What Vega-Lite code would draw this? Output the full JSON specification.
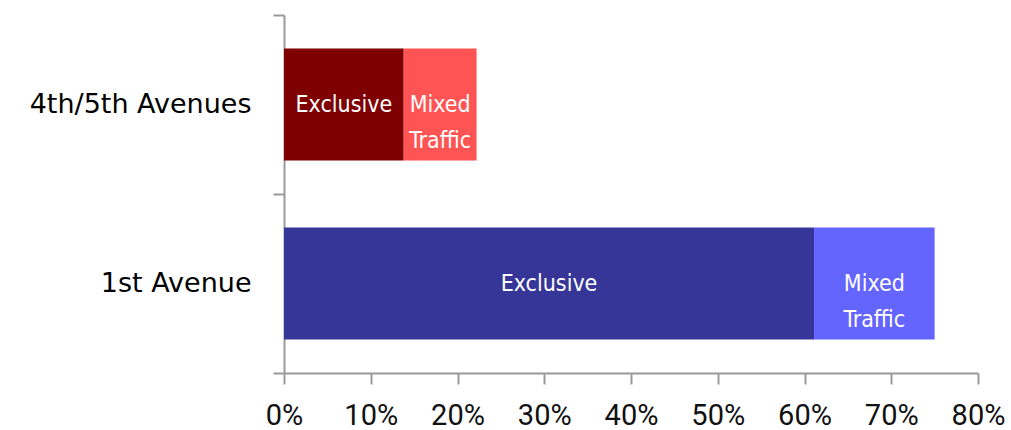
{
  "$schema": "https://vega.github.io/schema/vega-lite/v6.json",
  "width": 694,
  "height": 358,
  "autosize": {"type": "none"},
  "padding": {"left": 284, "top": 15, "right": 33, "bottom": 57},
  "background": "white",
  "config": {"view": {"stroke": null}},
  "data": {
    "values": [
      {"avenue": "4th/5th Avenues", "type": "Exclusive", "value": 13.8, "series": "4/5 Exclusive"},
      {"avenue": "4th/5th Avenues", "type": "Mixed Traffic", "value": 8.4, "series": "4/5 Mixed"},
      {"avenue": "1st Avenue", "type": "Exclusive", "value": 61.1, "series": "1st Exclusive"},
      {"avenue": "1st Avenue", "type": "Mixed Traffic", "value": 13.9, "series": "1st Mixed"}
    ]
  },
  "transform": [
    {"stack": "value", "groupby": ["avenue"], "sort": [{"field": "type", "order": "ascending"}], "as": ["start", "end"]},
    {"calculate": "(datum.start + datum.end) / 2", "as": "mid"}
  ],
  "encoding": {
    "y": {
      "field": "avenue",
      "type": "nominal",
      "sort": ["4th/5th Avenues", "1st Avenue"],
      "scale": {"paddingInner": 0, "paddingOuter": 0},
      "axis": {
        "title": null,
        "tickBand": "extent",
        "domainColor": "#9a9a9a",
        "domainWidth": 2,
        "tickColor": "#9a9a9a",
        "tickWidth": 2,
        "tickSize": 11,
        "labelFont": "DejaVu Sans",
        "labelFontSize": 27,
        "labelFontWeight": 500,
        "labelColor": "#000000",
        "labelPadding": 22,
        "labelLimit": 400
      }
    }
  },
  "layer": [
    {
      "mark": {"type": "bar", "height": {"band": 0.626}},
      "encoding": {
        "x": {
          "field": "start",
          "type": "quantitative",
          "scale": {"domain": [0, 80], "nice": false},
          "axis": {
            "title": null,
            "values": [0, 10, 20, 30, 40, 50, 60, 70, 80],
            "labelExpr": "datum.value + '%'",
            "labelFlush": false,
            "labelOverlap": false,
            "grid": false,
            "domainColor": "#9a9a9a",
            "domainWidth": 2,
            "tickColor": "#9a9a9a",
            "tickWidth": 2,
            "tickSize": 11,
            "labelFont": "Roboto",
            "labelFontSize": 29,
            "labelColor": "#111111",
            "labelPadding": 17
          }
        },
        "x2": {"field": "end"},
        "color": {
          "field": "series",
          "type": "nominal",
          "scale": {
            "domain": ["4/5 Exclusive", "4/5 Mixed", "1st Exclusive", "1st Mixed"],
            "range": ["#7f0000", "#ff5454", "#363699", "#6464ff"]
          },
          "legend": null
        }
      }
    },
    {
      "mark": {
        "type": "text",
        "color": "white",
        "font": "'DejaVu Sans Condensed', 'Liberation Sans Narrow', 'Roboto'",
        "fontSize": 23,
        "lineBreak": " ",
        "lineHeight": 36,
        "baseline": "middle",
        "align": "center"
      },
      "encoding": {
        "x": {"field": "mid", "type": "quantitative"},
        "text": {"field": "type"}
      }
    }
  ]
}
